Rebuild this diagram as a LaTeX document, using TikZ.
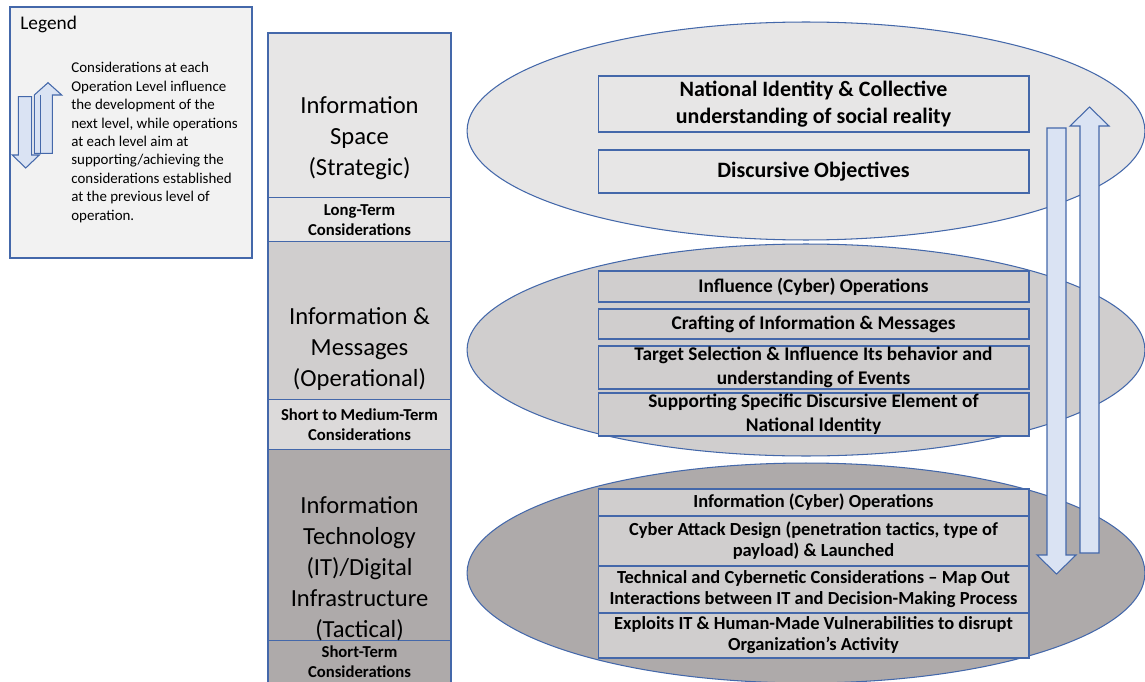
\documentclass[tikz,border=0pt]{standalone}
\usepackage{fontspec}
\setmainfont{Carlito}
\usetikzlibrary{positioning,shapes.geometric}

\definecolor{edgeblue}{RGB}{68,104,170}
\definecolor{arrowfill}{RGB}{218,227,243}
\definecolor{greyA}{RGB}{231,230,230}
\definecolor{greyB}{RGB}{208,206,206}
\definecolor{greyC}{RGB}{174,170,170}
\definecolor{legendfill}{RGB}{242,242,242}

\begin{document}
\begin{tikzpicture}[
        x=0.02cm, y=-0.02cm,
        tier/.style={rectangle, draw=edgeblue, line width=0.6pt, minimum width=3.66cm, inner sep=0pt, outer sep=0pt},
        tiername/.style={align=center, inner sep=0pt, font=\fontsize{14}{17.6}\selectfont},
        horizon/.style={rectangle, draw=edgeblue, line width=0.6pt, minimum width=3.66cm, inner sep=0pt, outer sep=0pt, align=center, font=\fontsize{9.5}{11.2}\selectfont\bfseries},
        plane/.style={ellipse, draw=edgeblue, line width=0.6pt, minimum width=13.56cm, inner sep=0pt},
        entry/.style={rectangle, draw=edgeblue, line width=0.6pt, minimum width=8.62cm, inner sep=0pt, outer sep=0pt, align=center},
        blockarrow/.style={draw=edgeblue, fill=arrowfill, line width=0.6pt, line join=miter}
    ]
        \useasboundingbox (0,0) rectangle (1145,682);

        % legend
        \node[draw=edgeblue, fill=legendfill, line width=0.6pt, minimum width=4.84cm, minimum height=5.02cm, inner sep=0pt] (legend) at (131,132.5) {};
        \node[anchor=base west, inner sep=0pt, font=\fontsize{11}{13}\selectfont] (legendtitle) at (20,30) {Legend};
        \node[anchor=north west, inner sep=0pt, align=left, font=\fontsize{8.5}{10.5}\selectfont] (legendtext) at (71,62) {Considerations at each\\Operation Level influence\\the development of the\\next level, while operations\\at each level aim at\\supporting/achieving the\\considerations established\\at the previous level of\\operation.};
        \draw[blockarrow] (18.3,96.7) -- (31.7,96.7) -- (31.7,155) -- (39.3,155) -- (25.7,168) -- (12.3,155) -- (18.3,155) -- cycle;
        \draw[blockarrow] (34.3,153.3) -- (34.3,95) -- (48,82.7) -- (61.7,95) -- (52.3,95) -- (52.3,153.3) -- cycle;
        \draw[edgeblue, line width=0.6pt] (40.7,95) -- (40.7,153.3);

        % levels of operation
        \node[tier, fill=greyA, minimum height=3.3cm, anchor=north] (spacebox) at (359.5,33) {};
        \node[horizon, fill=greyA, minimum height=0.88cm, below=0pt of spacebox] (longterm) {Long-Term\\Considerations};
        \node[tier, fill=greyB, minimum height=3.16cm, below=0pt of longterm] (msgbox) {};
        \node[horizon, fill=greyB!75!white, minimum height=1cm, below=0pt of msgbox] (midterm) {Short to Medium-Term\\Considerations};
        \node[tier, fill=greyC, minimum height=3.82cm, below=0pt of midterm] (itbox) {};
        \node[horizon, fill=greyC, minimum height=0.84cm, below=0pt of itbox] (shortterm) {Short-Term\\Considerations};

        \node[tiername] (spacename) at (359.5,138) {Information\\Space\\(Strategic)};
        \node[tiername] (msgname) at (359.5,349) {Information \&\\Messages\\(Operational)};
        \node[tiername] (itname) at (359.5,568.5) {Information\\Technology\\(IT)/Digital\\Infrastructure\\(Tactical)};

        % strategic plane
        \node[plane, fill=greyA, minimum height=4.36cm] (strategic) at (806,131) {};
        \node[entry, fill=greyA, minimum height=1.12cm, font=\fontsize{12.5}{15.3}\selectfont\bfseries] (identity) at (813.5,104) {National Identity \& Collective\\understanding of social reality};
        \node[entry, fill=greyA, minimum height=0.86cm, font=\fontsize{12.5}{15.3}\selectfont\bfseries] (objectives) at (813.5,171.5) {Discursive Objectives};

        % operational plane
        \node[plane, fill=greyB, minimum height=4.24cm] (operational) at (806,350) {};
        \begin{scope}[every node/.append style={font=\fontsize{11}{13.6}\selectfont\bfseries}]
        \node[entry, fill=greyB, minimum height=0.62cm] (influence) at (813.5,286.5) {Influence (Cyber) Operations};
        \node[entry, fill=greyB, minimum height=0.6cm, below=0.14cm of influence] (crafting) {Crafting of Information \& Messages};
        \node[entry, fill=greyB, minimum height=0.86cm, below=0.14cm of crafting] (targeting) {Target Selection \& Influence Its behavior and\\understanding of Events};
        \node[entry, fill=greyB, minimum height=0.86cm, below=0.08cm of targeting] (supporting) {Supporting Specific Discursive Element of\\National Identity};
        \end{scope}

        % tactical plane
        \node[plane, fill=greyC, minimum height=4.4cm] (tactical) at (806,573) {};
        \begin{scope}[every node/.append style={font=\fontsize{10.5}{12}\selectfont\bfseries}]
        \node[entry, fill=greyB, minimum height=0.54cm] (infoops) at (813.5,502.5) {Information (Cyber) Operations};
        \node[entry, fill=greyB, minimum height=1cm, below=0pt of infoops] (attack) {Cyber Attack Design (penetration tactics, type of\\payload) \& Launched};
        \node[entry, fill=greyB, minimum height=0.94cm, below=0pt of attack] (mapping) {Technical and Cybernetic Considerations -- Map Out\\Interactions between IT and Decision-Making Process};
        \node[entry, fill=greyB, minimum height=0.9cm, below=0pt of mapping] (exploits) {Exploits IT \& Human-Made Vulnerabilities to disrupt\\Organization’s Activity};
        \end{scope}

        % influence runs down, support runs up
        \draw[blockarrow] (1047,128) -- (1066,128) -- (1066,555) -- (1076,555) -- (1056.5,574) -- (1037,555) -- (1047,555) -- cycle;
        \draw[blockarrow] (1080,553) -- (1080,126) -- (1070,126) -- (1089.5,107) -- (1109,126) -- (1099,126) -- (1099,553) -- cycle;
    \end{tikzpicture}
\end{document}
